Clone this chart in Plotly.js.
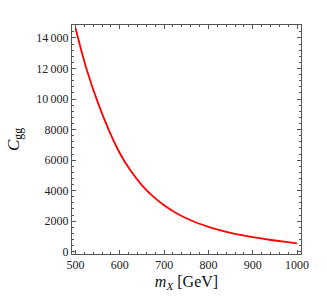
<!DOCTYPE html>
<html><head><meta charset="utf-8">
<script src="https://cdn.plot.ly/plotly-3.0.1.min.js"></script>
<style>html,body{margin:0;padding:0;background:#fff}#chart{width:327px;height:300px}</style>
</head><body><div id="chart"></div>
<script>
const massGeV = [500,525,550,575,600,625,650,675,700,725,750,775,800,825,850,875,900,925,950,975,1000];
const cggValues = [14640,11950,9800,7980,6450,5280,4350,3620,3040,2570,2190,1880,1630,1420,1235,1080,950,840,735,640,550];
const yTickVals = [0,2000,4000,6000,8000,10000,12000,14000];
const yTickText = ['0','2000','4000','6000','8000','10\u2009000','12\u2009000','14\u2009000'];
const xTickVals = [500,600,700,800,900,1000];

const axFont = {family:'Liberation Serif, Times New Roman, serif', size:12, color:'#222'};
Plotly.newPlot('chart', [{
  x: massGeV, y: cggValues, type:'scatter', mode:'lines',
  line:{color:'#ff0000', width:1.8, shape:'spline', smoothing:1}, hoverinfo:'skip'
}], {
  width:327, height:300,
  margin:{l:72, r:26, t:25, b:46},
  paper_bgcolor:'#fff', plot_bgcolor:'#fff',
  showlegend:false,
  font: axFont,
  xaxis:{
    range:[492,1009], tickvals:xTickVals, ticks:'inside', ticklen:4, tickcolor:'#555',
    showline:true, linecolor:'#555', linewidth:1, mirror:'ticks', showgrid:false, zeroline:false,
    minor:{dtick:20, ticks:'inside', ticklen:2, tickcolor:'#555', showgrid:false},
    tickfont: axFont,
    title:{text:'<i>m</i><sub><i>X</i></sub> [GeV]', font:{family:'Liberation Serif, serif', size:16, color:'#111'}, standoff:4}
  },
  yaxis:{
    range:[-150,14850], tickvals:yTickVals, ticktext:yTickText, ticks:'inside', ticklen:4, tickcolor:'#555',
    showline:true, linecolor:'#555', linewidth:1, mirror:'ticks', showgrid:false, zeroline:false,
    minor:{dtick:400, ticks:'inside', ticklen:2, tickcolor:'#555', showgrid:false},
    tickfont: axFont,
    title:{text:'<i>C</i><sub>gg</sub>', font:{family:'Liberation Serif, serif', size:17, color:'#111'}, standoff:12}
  }
}, {staticPlot:true, displayModeBar:false});
</script></body></html>
